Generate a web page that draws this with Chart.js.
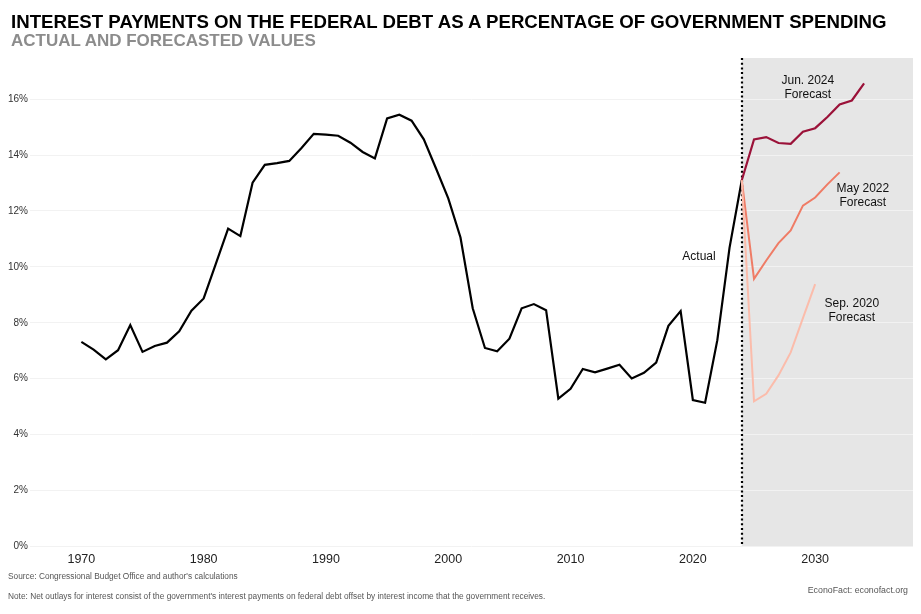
<!DOCTYPE html>
<html>
<head>
<meta charset="utf-8">
<script src="https://cdn.jsdelivr.net/npm/chart.js@4"></script>
<style>
  html, body { margin: 0; padding: 0; background: #fff; }
  #wrap { position: relative; width: 921px; height: 614px; font-family: "Liberation Sans", Arial, sans-serif; }
  #chart { position: absolute; left: 0; top: 0; }
  .txt { position: absolute; line-height: 1; white-space: nowrap; }
  #title { left: 11px; top: 12.5px; font-size: 18.65px; font-weight: bold; color: #000; }
  #subtitle { left: 11px; top: 32.4px; font-size: 17px; font-weight: bold; color: #8c8c8c; }
  #source { left: 8px; top: 571.8px; font-size: 8.3px; color: #555; }
  #note { left: 8px; top: 591.8px; font-size: 8.3px; color: #555; }
  #credit { right: 13px; top: 585.5px; font-size: 8.8px; color: #555; }
</style>
</head>
<body>
<div id="wrap">
  <canvas id="chart" width="921" height="614"></canvas>
  <div class="txt" id="title">INTEREST PAYMENTS ON THE FEDERAL DEBT AS A PERCENTAGE OF GOVERNMENT SPENDING</div>
  <div class="txt" id="subtitle">ACTUAL AND FORECASTED VALUES</div>
  <div class="txt" id="source">Source: Congressional Budget Office and author's calculations</div>
  <div class="txt" id="note">Note: Net outlays for interest consist of the government's interest payments on federal debt offset by interest income that the government receives.</div>
  <div class="txt" id="credit">EconoFact: econofact.org</div>
</div>
<script>
// data (percent of government spending)
const actualYears = [1970, 1971, 1972, 1973, 1974, 1975, 1976, 1977, 1978, 1979,
    1980, 1981, 1982, 1983, 1984, 1985, 1986, 1987, 1988, 1989,
    1990, 1991, 1992, 1993, 1994, 1995, 1996, 1997, 1998, 1999,
    2000, 2001, 2002, 2003, 2004, 2005, 2006, 2007, 2008, 2009,
    2010, 2011, 2012, 2013, 2014, 2015, 2016, 2017, 2018, 2019,
    2020, 2021, 2022, 2023, 2024];
const actualValues = [7.32, 7.04, 6.69, 7.02, 7.92, 6.96, 7.17, 7.29, 7.70, 8.43,
    8.87, 10.12, 11.37, 11.10, 13.01, 13.65, 13.71, 13.79, 14.25, 14.76,
    14.73, 14.69, 14.44, 14.11, 13.88, 15.31, 15.44, 15.23, 14.56, 13.52,
    12.45, 11.05, 8.52, 7.10, 6.98, 7.43, 8.52, 8.67, 8.45, 5.29,
    5.64, 6.35, 6.23, 6.36, 6.50, 6.01, 6.21, 6.58, 7.89, 8.42,
    5.24, 5.14, 7.38, 10.69, 13.10];

const jun2024Years = [2024, 2025, 2026, 2027, 2028, 2029, 2030, 2031, 2032, 2033, 2034];
const jun2024Values = [13.10, 14.56, 14.64, 14.43, 14.40, 14.83, 14.96, 15.36, 15.81, 15.95, 16.56];

const may2022Years = [2024, 2025, 2026, 2027, 2028, 2029, 2030, 2031, 2032];
const may2022Values = [13.10, 9.57, 10.23, 10.85, 11.30, 12.19, 12.48, 12.95, 13.38];

const sep2020Years = [2024, 2025, 2026, 2027, 2028, 2029, 2030];
const sep2020Values = [13.10, 5.19, 5.46, 6.12, 6.94, 8.17, 9.38];

const xTicks = [1970, 1980, 1990, 2000, 2010, 2020, 2030];
const yTicks = [0, 2, 4, 6, 8, 10, 12, 14, 16];

const forecastStart = 2024;

// in-chart labels: [text lines, year, value]
const labels = [
    [['Actual'], 2020.5, 10.35],
    [['Jun. 2024', 'Forecast'], 2029.4, 16.4],
    [['May 2022', 'Forecast'], 2033.9, 12.55],
    [['Sep. 2020', 'Forecast'], 2033.0, 8.45]
];

function toPoints(xs, ys) {
    return xs.map((x, i) => ({ x: x, y: ys[i] }));
}

const FONT = '"Liberation Sans", Arial, sans-serif';

// grey forecast band + dotted separator + text labels
const forecastPlugin = {
    id: 'forecastBand',
    beforeDraw(chart) {
        const { ctx, chartArea, scales } = chart;
        const x0 = scales.x.getPixelForValue(forecastStart);
        ctx.save();
        ctx.fillStyle = '#e6e6e6';
        ctx.fillRect(x0, chartArea.top, chartArea.right - x0, chartArea.bottom - chartArea.top);
        ctx.restore();
    },
    beforeDatasetsDraw(chart) {
        const { ctx, chartArea, scales } = chart;
        const x0 = Math.round(scales.x.getPixelForValue(forecastStart));
        ctx.save();
        ctx.strokeStyle = '#000';
        ctx.lineWidth = 2.2;
        ctx.setLineDash([2, 2.7]);
        ctx.beginPath();
        ctx.moveTo(x0, chartArea.top);
        ctx.lineTo(x0, chartArea.bottom);
        ctx.stroke();
        ctx.restore();
    },
    afterDatasetsDraw(chart) {
        const { ctx, scales } = chart;
        ctx.save();
        ctx.fillStyle = '#111';
        ctx.font = '12px ' + FONT;
        ctx.textAlign = 'center';
        ctx.textBaseline = 'middle';
        labels.forEach(([lines, xv, yv]) => {
            const cx = scales.x.getPixelForValue(xv);
            const cy = scales.y.getPixelForValue(yv);
            const lh = 14;
            const startY = cy - (lines.length - 1) * lh / 2;
            lines.forEach((t, i) => ctx.fillText(t, cx, startY + i * lh));
        });
        ctx.restore();
    }
};

new Chart(document.getElementById('chart'), {
    type: 'line',
    data: {
        datasets: [
            { label: 'Sep. 2020 Forecast', data: toPoints(sep2020Years, sep2020Values), borderColor: '#fbbcab', borderWidth: 2 },
            { label: 'May 2022 Forecast', data: toPoints(may2022Years, may2022Values), borderColor: '#ef7c66', borderWidth: 2 },
            { label: 'Jun. 2024 Forecast', data: toPoints(jun2024Years, jun2024Values), borderColor: '#9b1239', borderWidth: 2.2 },
            { label: 'Actual', data: toPoints(actualYears, actualValues), borderColor: '#000', borderWidth: 2.2 }
        ]
    },
    options: {
        responsive: false,
        animation: false,
        events: [],
        layout: { padding: { left: 0, right: 8, top: 58, bottom: 37.5 } },
        elements: {
            point: { radius: 0 },
            line: { tension: 0, fill: false, borderJoinStyle: 'miter' }
        },
        plugins: { legend: { display: false }, tooltip: { enabled: false } },
        scales: {
            x: {
                type: 'linear',
                min: 1965.8,
                max: 2038,
                afterBuildTicks: (s) => { s.ticks = xTicks.map(v => ({ value: v })); },
                afterFit: (s) => { s.height = 30; },
                grid: { display: false, drawTicks: false },
                border: { display: false },
                ticks: { padding: 6, color: '#222', font: { family: FONT, size: 12.5 }, callback: v => String(v), maxRotation: 0 }
            },
            y: {
                min: 0,
                max: 17.47,
                afterBuildTicks: (s) => { s.ticks = yTicks.map(v => ({ value: v })); },
                afterFit: (s) => { s.width = 30; },
                grid: { color: '#f2f2f2', lineWidth: 1, drawTicks: false },
                border: { display: false },
                ticks: { padding: 2, color: '#333', font: { family: FONT, size: 10 }, callback: v => v + '%' }
            }
        }
    },
    plugins: [forecastPlugin]
});
</script>
</body>
</html>
